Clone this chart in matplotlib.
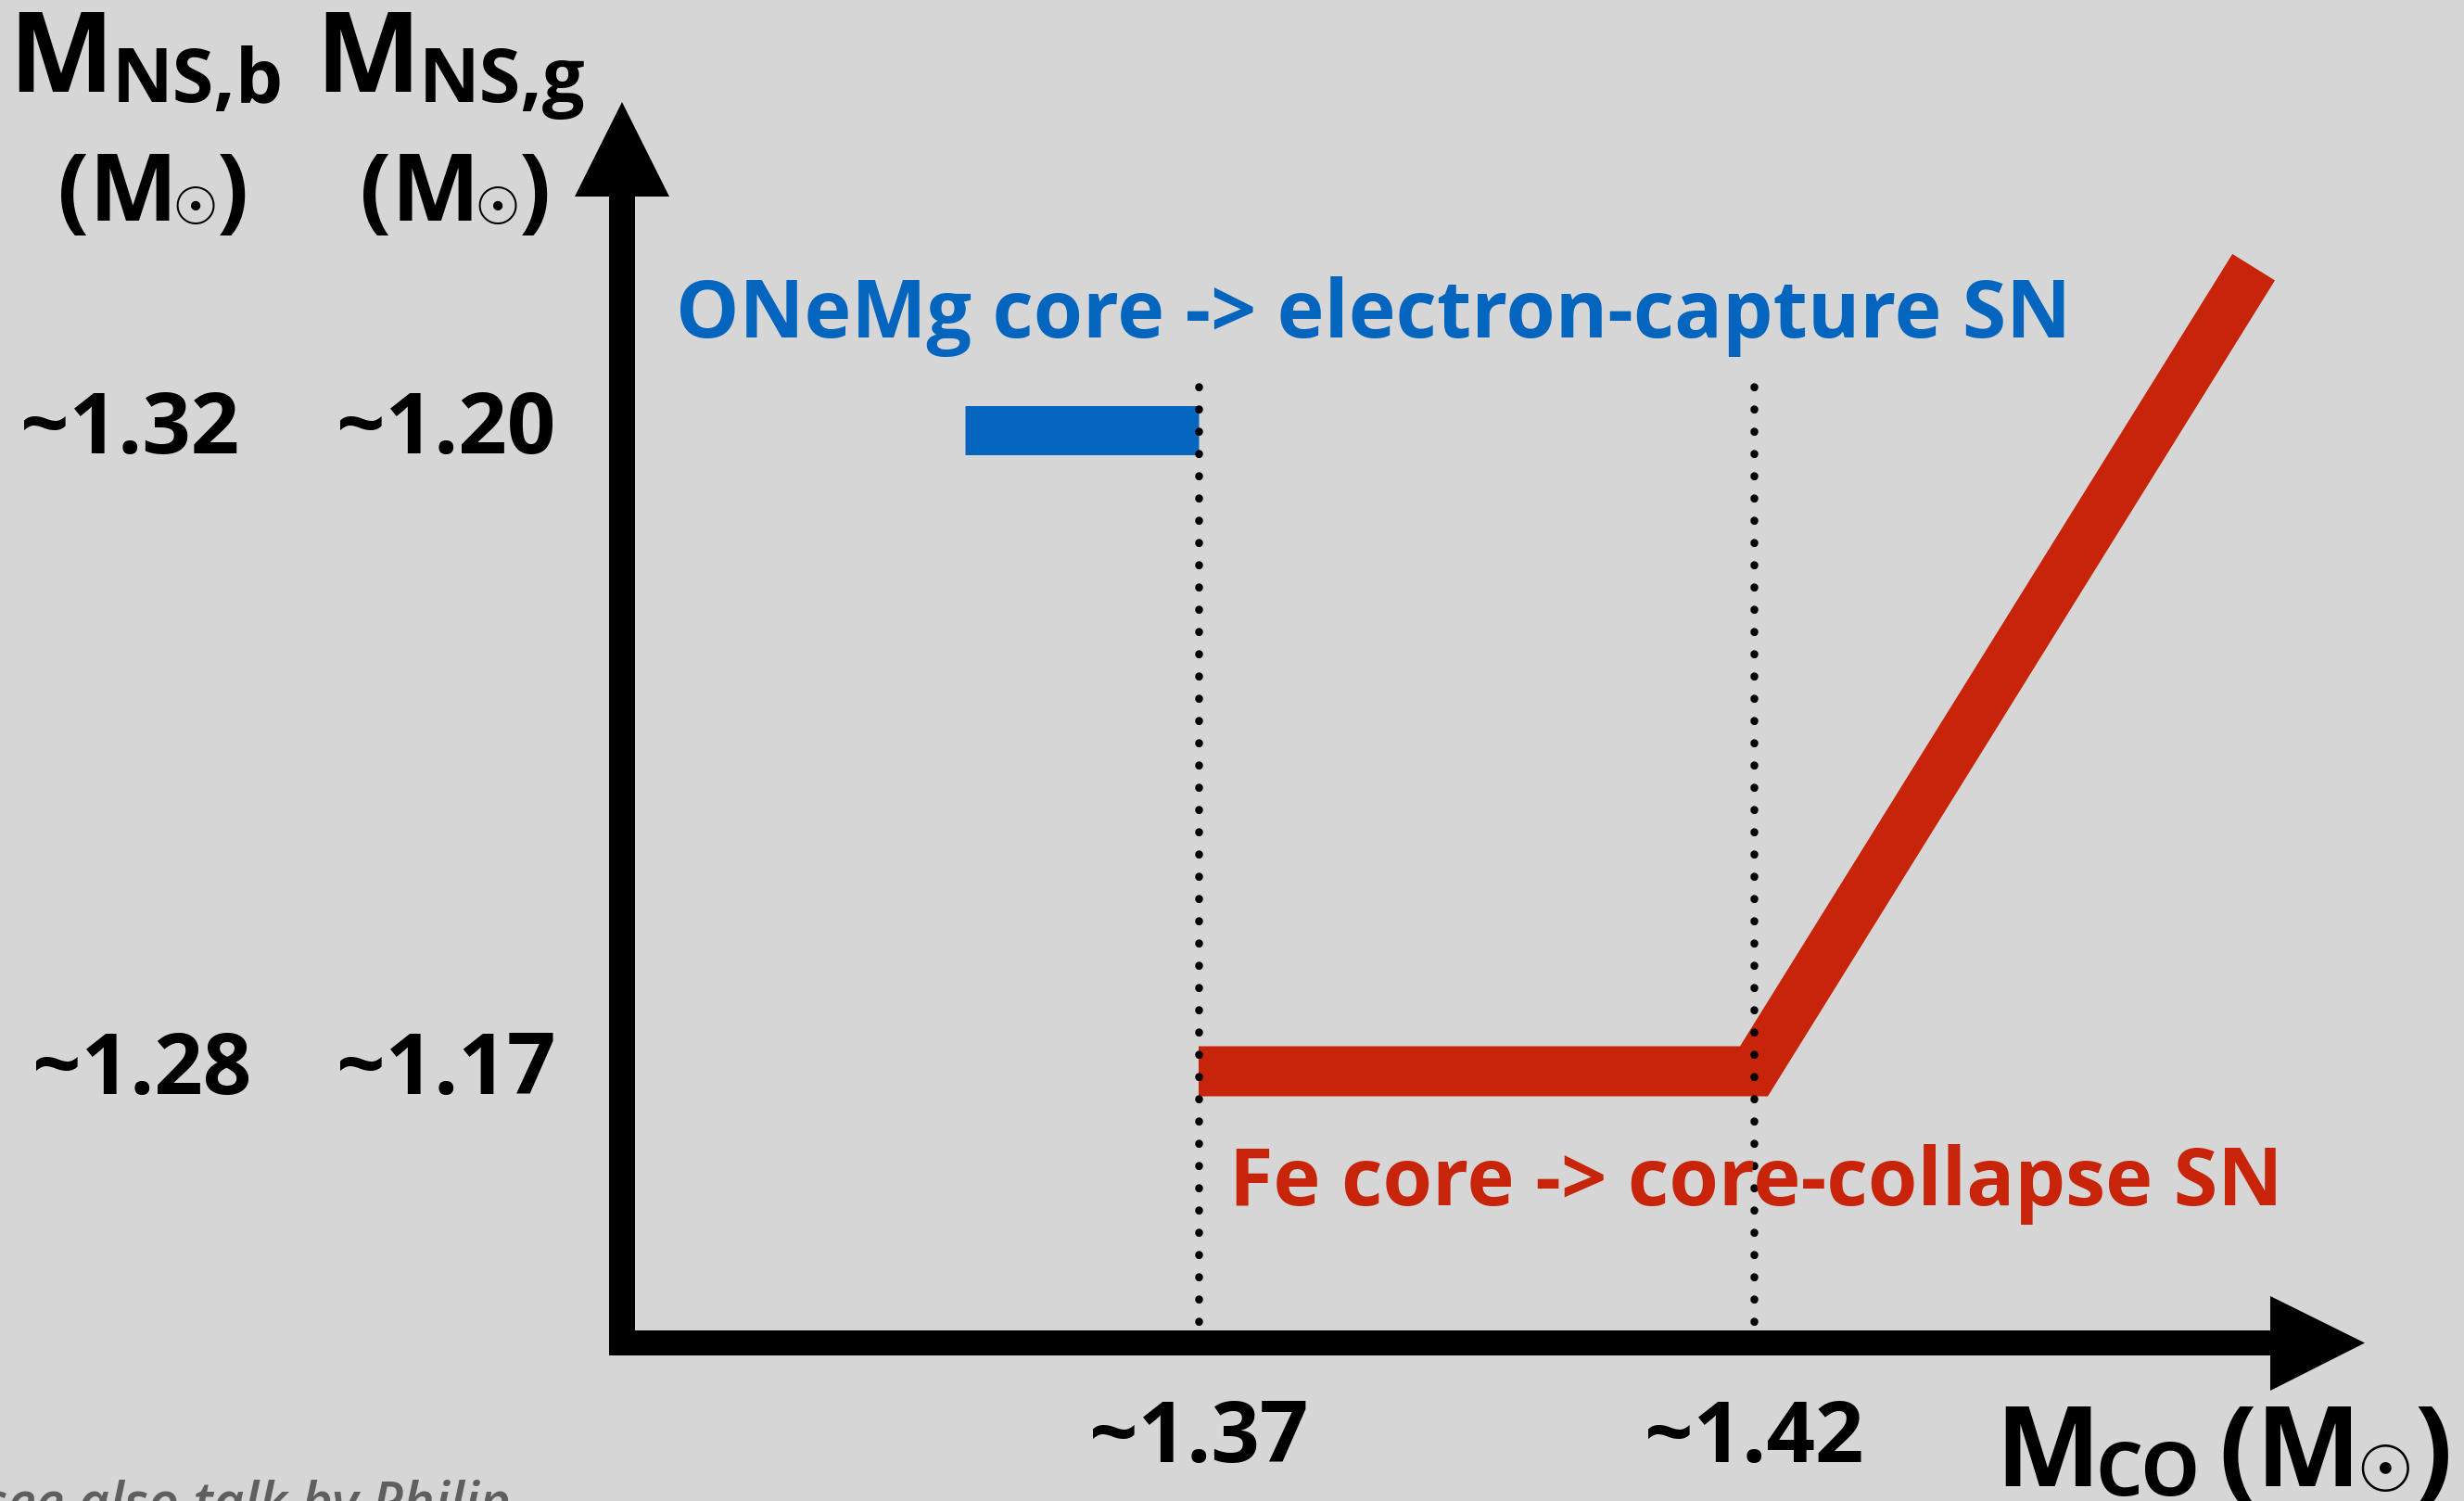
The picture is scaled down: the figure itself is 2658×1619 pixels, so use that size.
import matplotlib
matplotlib.use('Agg')
import matplotlib.pyplot as plt
from matplotlib.patches import Polygon
import matplotlib.transforms as mtransforms

# ---------------- data ----------------
x_ticks = [1.37, 1.42]
x_tick_labels = ['~1.37', '~1.42']
y_levels = [1.20, 1.17]                 # gravitational NS mass levels
y_labels_b = ['~1.32', '~1.28']         # baryonic mass labels
y_labels_g = ['~1.20', '~1.17']         # gravitational mass labels
ecsn_x = [1.349, 1.37]
ecsn_y = [1.20, 1.20]
ccsn_x = [1.37, 1.42, 1.465]
ccsn_y = [1.17, 1.17, 1.2076]
ecsn_label = 'ONeMg core -> electron-capture SN'
ccsn_label = 'Fe core -> core-collapse SN'
note_label = 'see also talk by Philip'

# ---------------- style ----------------
W, H, DPI = 2658, 1619, 100
BG = '#d6d6d6'
BLUE = '#0465bf'
RED = '#c8240a'
FONT = ['Open Sans', 'DejaVu Sans']
SYM = ['DejaVu Sans']

def pt(px):
    return px * 72.0 / DPI

fig = plt.figure(figsize=(W / DPI, H / DPI), dpi=DPI, facecolor=BG)
ax = fig.add_axes([0, 0, 1, 1])
ax.set_facecolor(BG)
ax.set_xlim(1.26207, 1.48394)
ax.set_ylim(1.149906, 1.220094)
ax.axis('off')

deco = fig.add_axes([0, 0, 1, 1])
deco.set_xlim(0, W)
deco.set_ylim(H, 0)
deco.axis('off')
deco.patch.set_alpha(0)

# ---------------- marks ----------------
ax.plot(ecsn_x, ecsn_y, color=BLUE, lw=pt(53), solid_capstyle='butt', zorder=3)
ax.plot(ccsn_x, ccsn_y, color=RED, lw=pt(54), solid_capstyle='butt',
        solid_joinstyle='miter', zorder=3)

dot_top, dot_bottom = 1.202016, 1.15810
DOT = 8.5
for xt in x_ticks:
    ax.plot([xt, xt], [dot_top, dot_bottom], color='black', lw=pt(DOT),
            linestyle=(0, (0.05, 24 / DOT - 0.05)), dash_capstyle='round', zorder=4)

# axes arrows (pixel space)
vert = [(657, 1462), (657, 212), (620, 212), (671, 110), (722, 212), (685, 212), (685, 1462)]
horz = [(657, 1435), (2449, 1435), (2449, 1398), (2551, 1448.5), (2449, 1500), (2449, 1462), (657, 1462)]
for pts in (vert, horz):
    deco.add_patch(Polygon(pts, closed=True, facecolor='black', edgecolor='none', zorder=5))

# ---------------- text ----------------
TICK_PX = 92
tick_trans = mtransforms.blended_transform_factory(ax.transData, deco.transData)
for xt, lab in zip(x_ticks, x_tick_labels):
    ax.text(xt, 1577, lab, transform=tick_trans, ha='center', va='baseline',
            family=FONT, fontweight='bold', fontsize=pt(TICK_PX), color='black')

lab_trans = mtransforms.offset_copy(
    mtransforms.blended_transform_factory(deco.transData, ax.transData),
    fig=fig, x=0, y=-25, units='dots')
for yv, lb, lg, xb in zip(y_levels, y_labels_b, y_labels_g, [22, 35]):
    ax.text(xb, yv, lb, transform=lab_trans, ha='left', va='baseline',
            family=FONT, fontweight='bold', fontsize=pt(TICK_PX), color='black')
    ax.text(363, yv, lg, transform=lab_trans, ha='left', va='baseline',
            family=FONT, fontweight='bold', fontsize=pt(TICK_PX), color='black')

def dtext(x, y, s, size_px, ha='left', va='baseline', fam=FONT, weight='bold', **kw):
    deco.text(x, y, s, ha=ha, va=va, family=fam, fontweight=weight,
              fontsize=pt(size_px), color=kw.pop('color', 'black'), **kw)

# y-axis titles
for dx, sub in [(0, 'NS,b'), (331, 'NS,g')]:
    dtext(9 + dx, 99, 'M', 120)
    dtext(121 + dx, 110, sub, 81)
for dx in (0, 326):
    dtext(62 + dx, 238, '(M', 101)
    dtext(211 + dx, 227, '\u2609', 56, ha='center', va='center', fam=SYM, weight='normal')
    dtext(268 + dx, 238, ')', 101, ha='right')

# x-axis title
dtext(2152, 1603, 'M', 120)
dtext(2260, 1613, 'CO', 80)
dtext(2393, 1603, '(M', 120)
dtext(2573, 1589, '\u2609', 70, ha='center', va='center', fam=SYM, weight='normal')
dtext(2645, 1603, ')', 120, ha='right')

# annotations
dtext(729, 364, ecsn_label, 86, color=BLUE)
dtext(1326, 1300, ccsn_label, 86.5, color=RED)
deco.text(-18, 1640, note_label, ha='left', va='baseline', family=FONT,
          fontweight='semibold', style='italic', fontsize=pt(58), color='#5f5f5f')

fig.savefig('out.png', dpi=DPI, facecolor=BG)
